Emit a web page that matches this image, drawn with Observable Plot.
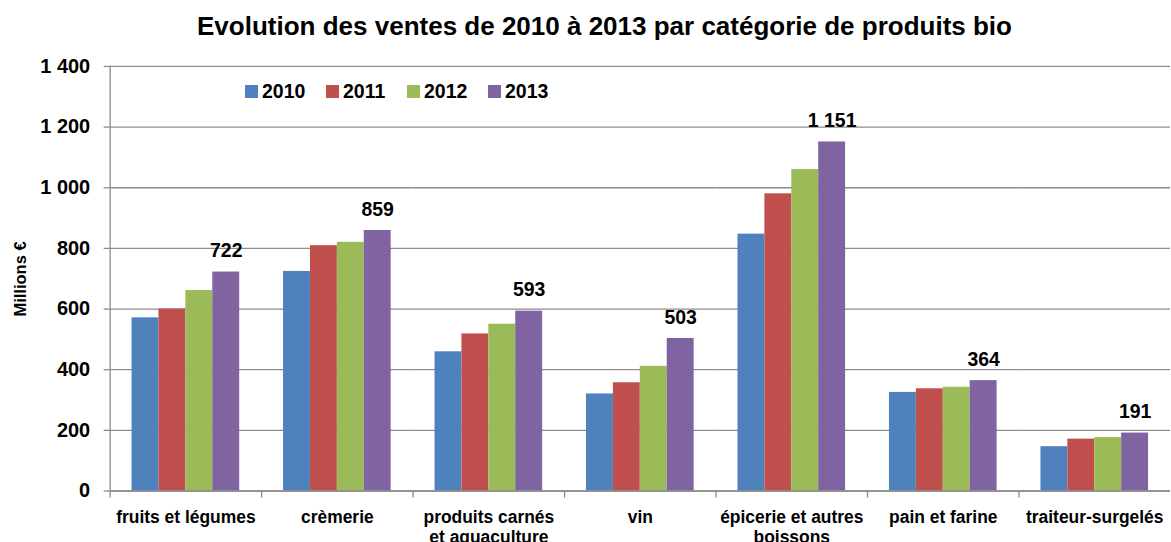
<!DOCTYPE html>
<html><head><meta charset="utf-8">
<script src="https://cdn.jsdelivr.net/npm/d3@7"></script>
<script src="https://cdn.jsdelivr.net/npm/@observablehq/plot@0.6"></script>
<style>
html,body{margin:0;padding:0;background:#fff;overflow:hidden;width:1171px;height:542px}
#wrap{position:relative;width:1171px;height:542px;font-family:"Liberation Sans",Arial,sans-serif;font-weight:bold;color:#000;overflow:hidden}
#title{position:absolute;left:0;top:13px;width:1209px;text-align:center;font-size:26px;line-height:1;white-space:nowrap}
#chart{position:absolute;left:0;top:50px}
#legend{position:absolute;left:245px;top:82px;display:flex;font-size:19.5px;line-height:1}
#legend .item{display:flex;align-items:center;width:81px}
#legend .sw{width:13px;height:13px;margin-right:4px}
#ylabel{position:absolute;left:20px;top:279px;transform:translate(-50%,-50%) rotate(-90deg);font-size:16.5px;white-space:nowrap;line-height:1}
</style></head><body><div id="wrap">
<div id="title">Evolution des ventes de 2010 à 2013 par catégorie de produits bio</div>
<div id="chart"></div>
<div id="legend"></div>
<div id="ylabel">Millions €</div>
</div>
<script>
const categories = ["fruits et légumes", "crèmerie", "produits carnés et aquaculture", "vin", "épicerie et autres boissons", "pain et farine", "traiteur-surgelés"];
const categoryLabels = ["fruits et légumes", "crèmerie", "produits carnés\net aquaculture", "vin", "épicerie et autres\nboissons", "pain et farine", "traiteur-surgelés"];
const years = ["2010", "2011", "2012", "2013"];
const v2010 = [571, 724, 459, 320, 847, 325, 146];
const v2011 = [600, 809, 518, 357, 980, 337, 171];
const v2012 = [661, 820, 550, 411, 1060, 342, 176];
const v2013 = [722, 859, 593, 503, 1151, 364, 191];
const yTicks = [0, 200, 400, 600, 800, 1000, 1200, 1400];
const colors = ["#4f81bd", "#c0504d", "#9bbb59", "#8064a2"];

const series = [v2010, v2011, v2012, v2013];
const data = [];
categories.forEach((c, i) => years.forEach((y, j) => data.push({cat: c, year: y, value: series[j][i]})));
const last = data.filter(d => d.year === "2013");

const fr = d3.formatLocale({decimal: ",", thousands: " ", grouping: [3], currency: ["", " €"]});
const fmt = fr.format(",d");
const grid = "#8c8c8c";

const chart = Plot.plot({
  width: 1175, height: 492,
  marginLeft: 109, marginRight: 0, marginTop: 16, marginBottom: 50,
  style: {fontFamily: "'Liberation Sans', Arial, sans-serif", background: "transparent", color: "#000", overflow: "visible"},
  fx: {domain: categories, paddingInner: 0, paddingOuter: 0, label: null, axis: null},
  x: {domain: years, paddingInner: 0, paddingOuter: 0.78, axis: null},
  y: {domain: [0, 1400], axis: null},
  color: {domain: years, range: colors},
  marks: [
    Plot.gridY(yTicks, {stroke: grid, strokeOpacity: 1, strokeWidth: 1.3}),
    Plot.barY(data, {fx: "cat", x: "year", y: "value", fill: "year"}),
    Plot.frame({anchor: "left", facetAnchor: "left", stroke: grid, strokeWidth: 1.3}),
    Plot.frame({anchor: "left", stroke: grid, strokeWidth: 1.3, insetTop: 426, insetBottom: -6}),
    Plot.ruleY([0], {stroke: grid, strokeWidth: 1.3}),
    Plot.axisY(yTicks, {tickSize: 6, tickPadding: 14, fontSize: 20, fontWeight: "bold", stroke: grid, strokeWidth: 1.3, strokeOpacity: 1, tickFormat: fmt, label: null}),
    Plot.axisFx({anchor: "bottom", tickSize: 0, tickPadding: 18, fontSize: 17.5, fontWeight: "bold", lineHeight: 1.15, tickFormat: d => categoryLabels[categories.indexOf(d)], label: null}),
    Plot.text(last, {fx: "cat", x: "year", y: "value", text: d => fmt(d.value), dy: -21, fontSize: 19.5, fontWeight: "bold", fill: "#000"})
  ]
});
document.getElementById("chart").appendChild(chart);

const legend = document.getElementById("legend");
years.forEach((y, i) => {
  const it = document.createElement("div");
  it.className = "item";
  const sw = document.createElement("span");
  sw.className = "sw";
  sw.style.background = colors[i];
  const t = document.createElement("span");
  t.textContent = y;
  it.appendChild(sw); it.appendChild(t);
  legend.appendChild(it);
});
</script>
</body></html>
